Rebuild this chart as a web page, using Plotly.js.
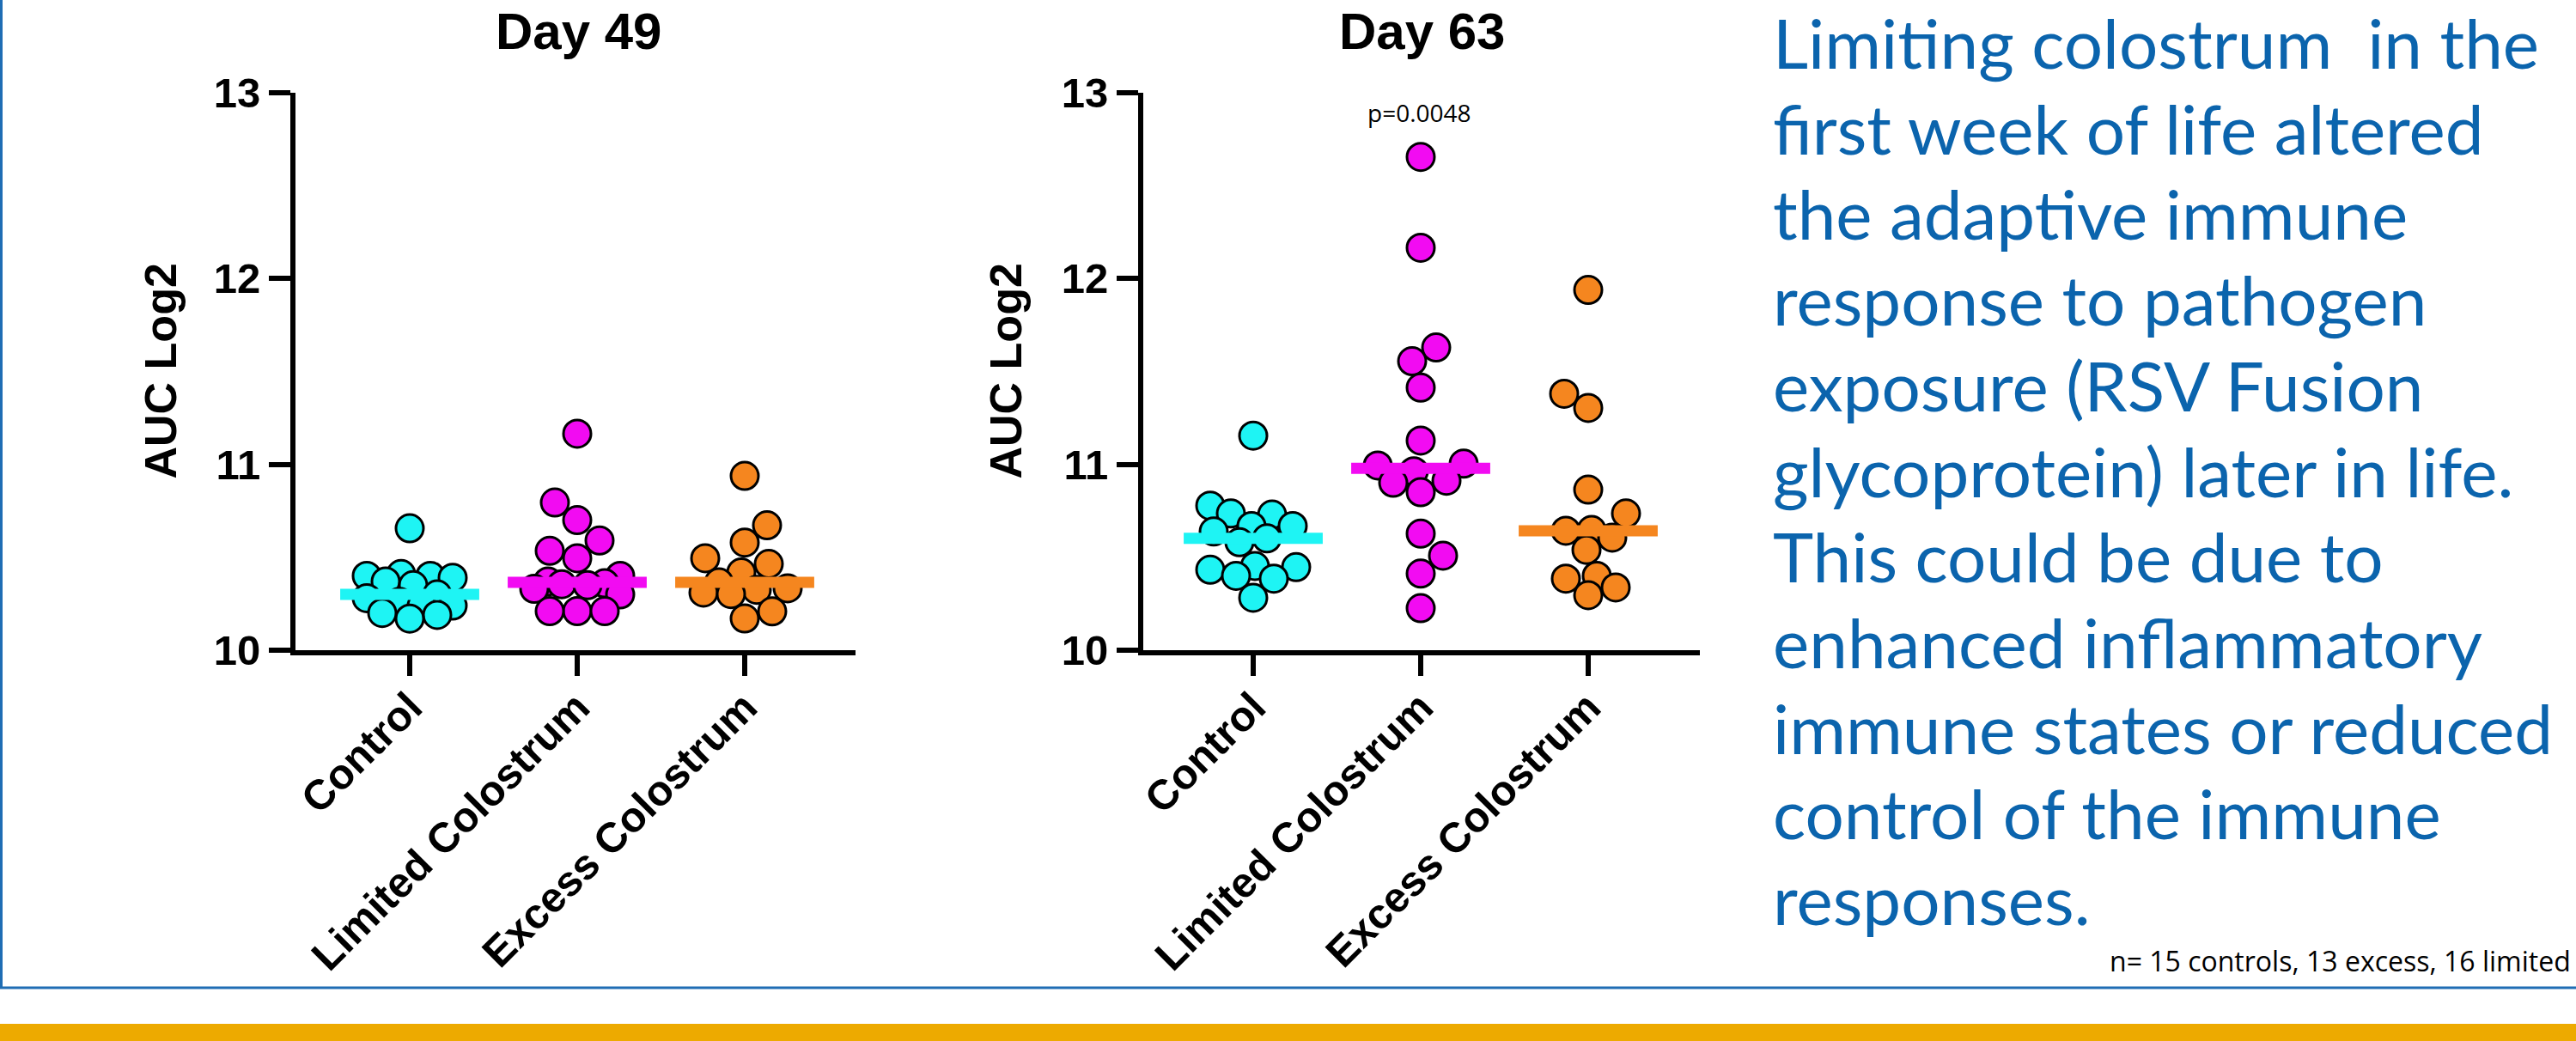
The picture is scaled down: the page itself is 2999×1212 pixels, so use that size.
<!DOCTYPE html>
<html><head><meta charset="utf-8">
<script src="https://cdn.plot.ly/plotly-3.0.1.min.js"></script>
<style>html,body{margin:0;padding:0;background:#fff;overflow:hidden}#chart{width:2999px;height:1212px}</style>
</head><body><div id="chart"></div>
<script>
// ---------- data ----------
const categories = ['Control', 'Limited Colostrum', 'Excess Colostrum'];
const day49Control = [10.656, 10.41, 10.40, 10.40, 10.39, 10.37, 10.35, 10.30, 10.28, 10.26, 10.24, 10.24, 10.20, 10.19, 10.17];
const day49Limited = [11.165, 10.795, 10.70, 10.59, 10.535, 10.495, 10.40, 10.37, 10.36, 10.355, 10.35, 10.33, 10.30, 10.21, 10.21, 10.21];
const day49Excess = [10.938, 10.672, 10.579, 10.495, 10.464, 10.418, 10.365, 10.333, 10.325, 10.31, 10.302, 10.209, 10.171];
const day63Control = [11.155, 10.778, 10.736, 10.730, 10.668, 10.668, 10.639, 10.602, 10.581, 10.453, 10.447, 10.433, 10.400, 10.385, 10.282];
const day63Limited = [12.655, 12.166, 11.629, 11.555, 11.413, 11.128, 11.004, 10.994, 10.963, 10.912, 10.901, 10.850, 10.627, 10.509, 10.412, 10.226];
const day63Excess = [11.939, 11.380, 11.304, 10.864, 10.736, 10.647, 10.643, 10.606, 10.540, 10.400, 10.385, 10.338, 10.296];
const panelTitles = ['Day 49', 'Day 63'];
const yTickValues = [10, 11, 12, 13];
const yTitleText = 'AUC Log2';
const pValueText = 'p=0.0048';
const noteText = 'n= 15 controls, 13 excess, 16 limited';
const paragraphLines = [
  'Limiting colostrum  in the',
  'first week of life altered',
  'the adaptive immune',
  'response to pathogen',
  'exposure (RSV Fusion',
  'glycoprotein) later in life.',
  'This could be due to',
  'enhanced inflammatory',
  'immune states or reduced',
  'control of the immune',
  'responses.'
];
const groupColors = ['#1EF4F4', '#F20BF2', '#F5861F'];

// ---------- layout geometry ----------
const W = 2999, H = 1212;
const px = x => x / W;
const py = y => 1 - y / H;
const plotTop = 108, plotBottom = 757;
const panels = [
  {groups: [day49Control, day49Limited, day49Excess], left: 344, right: 996, firstCat: 477, catStep: 195, titleX: 673, yTitleX: 186},
  {groups: [day63Control, day63Limited, day63Excess], left: 1331, right: 1979, firstCat: 1459, catStep: 195, titleX: 1655, yTitleX: 1170}
];
const pxPerY = (plotBottom - plotTop) / (yTickValues[yTickValues.length - 1] - yTickValues[0]);
const markerSize = 32, markerLine = 3;

function median(a) {
  const s = a.slice().sort((p, q) => p - q);
  const n = s.length;
  return n % 2 ? s[(n - 1) / 2] : (s[n / 2 - 1] + s[n / 2]) / 2;
}

// beeswarm with a limited spread: offsets (category units) computed from the values
function swarm(vals, pxPerX, gap, maxOff) {
  const order = vals.map((v, i) => i).sort((a, b) => vals[a] - vals[b]);
  const placed = [];
  const off = new Array(vals.length).fill(0);
  const step = 2;
  let balance = 0;
  for (const i of order) {
    const y = vals[i] * pxPerY;
    const cands = [0];
    for (let k = 1; k * step <= maxOff; k++) {
      if (balance > 0) cands.push(-k * step, k * step); else cands.push(k * step, -k * step);
    }
    let best = null, bestD = -1, bestX = 0;
    for (const x of cands) {
      const d = placed.length ? Math.min(...placed.map(p => Math.hypot(p.x - x, p.y - y))) : Infinity;
      if (d >= gap) { best = x; break; }
      if (d > bestD + 0.5) { bestD = d; bestX = x; }
    }
    if (best === null) best = bestX;
    placed.push({x: best, y});
    balance += best;
    off[i] = best / pxPerX;
  }
  return off;
}

const traces = [];
const layout = {
  width: W, height: H,
  margin: {l: 0, r: 0, t: 0, b: 0},
  paper_bgcolor: '#ffffff', plot_bgcolor: 'rgba(0,0,0,0)',
  showlegend: false,
  annotations: [], shapes: []
};

const axisFontBold = {family: 'Liberation Sans, Arial, sans-serif', size: 49, color: '#000', weight: 'bold'};

panels.forEach((p, pi) => {
  const xa = pi === 0 ? 'x' : 'x2', ya = pi === 0 ? 'y' : 'y2';
  const xKey = pi === 0 ? 'xaxis' : 'xaxis2', yKey = pi === 0 ? 'yaxis' : 'yaxis2';
  const rStart = -(p.firstCat - p.left) / p.catStep;
  const rEnd = rStart + (p.right - p.left) / p.catStep;
  layout[xKey] = {
    domain: [px(p.left), px(p.right)], range: [rStart, rEnd], anchor: ya,
    tickvals: categories.map((c, i) => i), ticktext: categories, tickangle: -45,
    ticks: 'outside', ticklen: 24, tickwidth: 6, tickcolor: '#000', ticklabelstandoff: -12,
    showline: true, linewidth: 6, linecolor: '#000', showgrid: false, zeroline: false,
    tickfont: axisFontBold, fixedrange: true
  };
  layout[yKey] = {
    domain: [py(plotBottom), py(plotTop)], range: [yTickValues[0], yTickValues[yTickValues.length - 1]], anchor: xa,
    tickvals: yTickValues, ticks: 'outside', ticklen: 25, tickwidth: 6, tickcolor: '#000',
    showline: true, linewidth: 6, linecolor: '#000', showgrid: false, zeroline: false,
    tickfont: axisFontBold, fixedrange: true
  };
  p.groups.forEach((vals, gi) => {
    const offs = swarm(vals, p.catStep, 32, 50);
    traces.push({
      type: 'scatter', mode: 'markers', xaxis: xa, yaxis: ya,
      x: vals.map((v, i) => gi + offs[i]), y: vals, cliponaxis: false,
      marker: {size: markerSize, color: groupColors[gi], line: {color: '#000', width: markerLine}},
      hoverinfo: 'y'
    });
  });
  p.groups.forEach((vals, gi) => {
    const m = median(vals);
    traces.push({
      type: 'scatter', mode: 'lines', xaxis: xa, yaxis: ya,
      x: [gi - 0.415, gi + 0.415], y: [m, m], cliponaxis: false,
      line: {color: groupColors[gi], width: 13}, hoverinfo: 'skip'
    });
  });
  layout.annotations.push({
    xref: 'paper', yref: 'paper', x: px(p.titleX), y: py(37), xanchor: 'center', yanchor: 'middle',
    text: panelTitles[pi], showarrow: false,
    font: {family: 'Liberation Sans, Arial, sans-serif', size: 60, color: '#000', weight: 'bold'}
  });
  layout.annotations.push({
    xref: 'paper', yref: 'paper', x: px(p.yTitleX), y: py((plotTop + plotBottom) / 2), xanchor: 'center', yanchor: 'middle',
    text: yTitleText, textangle: -90, showarrow: false,
    font: {family: 'Liberation Sans, Arial, sans-serif', size: 52, color: '#000', weight: 'bold'}
  });
});

// p-value
layout.annotations.push({
  xref: 'paper', yref: 'paper', x: px(1652), y: py(131), xanchor: 'center', yanchor: 'middle',
  text: pValueText, showarrow: false,
  font: {family: 'Open Sans, sans-serif', size: 28, color: '#000'}
});
// n note
layout.annotations.push({
  xref: 'paper', yref: 'paper', x: px(2995), y: py(1118), xanchor: 'right', yanchor: 'middle',
  text: noteText, showarrow: false,
  font: {family: 'Open Sans, sans-serif', size: 32, color: '#000'}
});
// paragraph
paragraphLines.forEach((t, k) => {
  const baseline = 80 + k * 99.7;
  layout.annotations.push({
    xref: 'paper', yref: 'paper', x: px(2062), y: py(baseline - 31), xanchor: 'left', yanchor: 'middle',
    text: t, showarrow: false,
    font: {family: 'Lato, sans-serif', size: 80, color: '#0B64AD'}
  });
});

// frame & band
layout.shapes.push(
  {type: 'line', xref: 'paper', yref: 'paper', x0: px(1.5), x1: px(1.5), y0: py(0), y1: py(1150), line: {color: '#1F6DB4', width: 3}},
  {type: 'line', xref: 'paper', yref: 'paper', x0: 0, x1: 1, y0: py(1150), y1: py(1150), line: {color: '#1F6DB4', width: 3}},
  {type: 'rect', xref: 'paper', yref: 'paper', x0: 0, x1: 1, y0: py(1212), y1: py(1192), fillcolor: '#EDAA00', line: {width: 0}}
);

Plotly.newPlot('chart', traces, layout, {displayModeBar: false, staticPlot: true});
</script>
</body></html>
